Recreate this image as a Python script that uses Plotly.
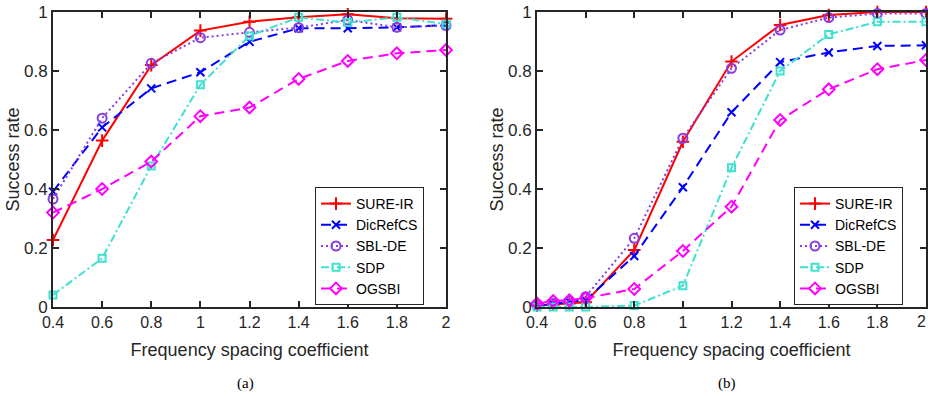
import plotly.graph_objects as go

# ---------------- data ----------------
x_a = [0.4, 0.6, 0.8, 1.0, 1.2, 1.4, 1.6, 1.8, 2.0]
x_b = [0.4, 0.4667, 0.5333, 0.6, 0.8, 1.0, 1.2, 1.4, 1.6, 1.8, 2.0]

names = ["SURE-IR", "DicRefCS", "SBL-DE", "SDP", "OGSBI"]

sure_a = [0.227, 0.564, 0.820, 0.937, 0.967, 0.982, 0.992, 0.979, 0.977]
dic_a = [0.391, 0.609, 0.741, 0.796, 0.899, 0.945, 0.945, 0.948, 0.956]
sbl_a = [0.366, 0.640, 0.826, 0.913, 0.931, 0.947, 0.973, 0.948, 0.954]
sdp_a = [0.041, 0.165, 0.478, 0.753, 0.919, 0.982, 0.964, 0.982, 0.959]
ogs_a = [0.320, 0.400, 0.493, 0.647, 0.676, 0.773, 0.834, 0.860, 0.871]

sure_b = [0.005, 0.008, 0.012, 0.016, 0.193, 0.560, 0.832, 0.956, 0.990, 1.000, 1.000]
dic_b = [0.005, 0.010, 0.018, 0.023, 0.173, 0.406, 0.660, 0.830, 0.863, 0.885, 0.887]
sbl_b = [0.008, 0.012, 0.020, 0.035, 0.233, 0.572, 0.809, 0.939, 0.981, 0.995, 0.995]
sdp_b = [0.000, 0.000, 0.000, 0.000, 0.005, 0.072, 0.472, 0.800, 0.924, 0.967, 0.967]
ogs_b = [0.012, 0.020, 0.023, 0.030, 0.061, 0.190, 0.340, 0.634, 0.738, 0.806, 0.837]

x_ticks = [0.4, 0.6, 0.8, 1.0, 1.2, 1.4, 1.6, 1.8, 2.0]
x_ticklabels = ["0.4", "0.6", "0.8", "1", "1.2", "1.4", "1.6", "1.8", "2"]
y_ticks = [0, 0.2, 0.4, 0.6, 0.8, 1.0]
y_ticklabels = ["0", "0.2", "0.4", "0.6", "0.8", "1"]

# ---------------- styles ----------------
colors = ["#ff0000", "#0000ff", "#8a3be2", "#40e0d0", "#ff00ff"]
dashes = ["solid", "10px,6px", "2px,3px", "8px,3px,2px,3px", "10px,6px"]
symbols = ["cross-thin", "x-thin", "circle-open", "square-open", "diamond-open"]
msizes = [9, 8, 9, 7, 9]

fig = go.Figure()

series_a = [sure_a, dic_a, sbl_a, sdp_a, ogs_a]
series_b = [sure_b, dic_b, sbl_b, sdp_b, ogs_b]

for i, (nm, ya) in enumerate(zip(names, series_a)):
    fig.add_trace(go.Scatter(
        x=x_a, y=ya, name=nm, mode="lines+markers",
        line=dict(color=colors[i], width=2, dash=dashes[i]),
        marker=dict(symbol=symbols[i], size=msizes[i], color=colors[i],
                    line=dict(color=colors[i], width=2)),
        xaxis="x", yaxis="y", legend="legend", cliponaxis=False))

for i, (nm, yb) in enumerate(zip(names, series_b)):
    fig.add_trace(go.Scatter(
        x=x_b, y=yb, name=nm, mode="lines+markers",
        line=dict(color=colors[i], width=2, dash=dashes[i]),
        marker=dict(symbol=symbols[i], size=msizes[i], color=colors[i],
                    line=dict(color=colors[i], width=2)),
        xaxis="x2", yaxis="y2", legend="legend2", cliponaxis=False))

W, H = 928, 396
font_sans = "Liberation Sans, Arial, Helvetica, sans-serif"
font_serif = "Liberation Serif, Times New Roman, serif"
axcol = "#262626"

def xax(domain, anchor):
    return dict(domain=domain, anchor=anchor, range=[0.4, 2.0], automargin=False,
                tickvals=x_ticks, ticktext=x_ticklabels,
                showline=True, linecolor=axcol, linewidth=2, mirror="ticks",
                ticks="inside", ticklen=6, tickwidth=2, tickcolor=axcol,
                showgrid=False, zeroline=False,
                tickfont=dict(family=font_sans, size=16, color="#262626"),
                title=dict(text="Frequency spacing coefficient",
                           font=dict(family=font_sans, size=18, color="#262626"),
                           standoff=13))

def yax(anchor):
    return dict(domain=[(H - 307) / H, (H - 12) / H], anchor=anchor, range=[0, 1],
                automargin=False,
                tickvals=y_ticks, ticktext=y_ticklabels,
                showline=True, linecolor=axcol, linewidth=2, mirror="ticks",
                ticks="inside", ticklen=6, tickwidth=2, tickcolor=axcol,
                showgrid=False, zeroline=False,
                tickfont=dict(family=font_sans, size=17, color="#262626"),
                title=dict(text="Success rate",
                           font=dict(family=font_sans, size=18, color="#262626"),
                           standoff=0))

leg_common = dict(bgcolor="white", bordercolor=axcol, borderwidth=1,
                  font=dict(family=font_sans, size=14, color="black"),
                  xanchor="left", yanchor="top", tracegroupgap=0,
                  itemwidth=30)

fig.update_layout(
    width=W, height=H,
    margin=dict(l=0, r=0, t=0, b=0, autoexpand=False),
    paper_bgcolor="white", plot_bgcolor="white",
    xaxis=xax([53 / W, 446 / W], "y"),
    yaxis=yax("x"),
    xaxis2=xax([537 / W, 926 / W], "y2"),
    yaxis2=yax("x2"),
    legend=dict(x=315 / W, y=(H - 187) / H, **leg_common),
    legend2=dict(x=794 / W, y=(H - 187) / H, **leg_common),
    annotations=[
        dict(text="(a)", x=245 / W, y=(H - 383) / H, xref="paper", yref="paper",
             xanchor="center", yanchor="middle", showarrow=False,
             font=dict(family=font_serif, size=15, color="black")),
        dict(text="(b)", x=727 / W, y=(H - 383) / H, xref="paper", yref="paper",
             xanchor="center", yanchor="middle", showarrow=False,
             font=dict(family=font_serif, size=15, color="black")),
        # last tick label of the right panel (plotly hides it because it touches the page edge)
        dict(text=x_ticklabels[-1], x=x_ticks[-1], xref="x2", y=0, yref="y2",
             xanchor="right", yanchor="top", xshift=2, yshift=-4, showarrow=False,
             font=dict(family=font_sans, size=16, color="#262626")),
    ],
    showlegend=True,
)

fig.write_html("out.html")
